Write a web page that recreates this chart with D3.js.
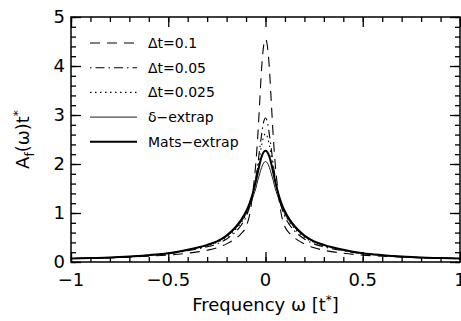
<!DOCTYPE html>
<html>
<head>
<meta charset="utf-8">
<script src="https://cdn.jsdelivr.net/npm/d3@7"></script>
<style>
  body { margin: 0; background: #fff; }
  svg text { font-family: "DejaVu Sans", Verdana, sans-serif; fill: #000; }
</style>
</head>
<body>
<svg id="chart" width="461" height="321"></svg>
<script>
// frequency grid (omega, in units of t*)
const omega = [-1, -0.9, -0.8, -0.7, -0.6, -0.5, -0.4, -0.3, -0.25, -0.2, -0.15, -0.125, -0.1, -0.08, -0.06, -0.05, -0.04, -0.03, -0.02, -0.01,
  0, 0.01, 0.02, 0.03, 0.04, 0.05, 0.06, 0.08, 0.1, 0.125, 0.15, 0.2, 0.25, 0.3, 0.4, 0.5, 0.6, 0.7, 0.8, 0.9, 1];

// A_f(omega) t* for each series
const dt01 = [0.07, 0.075, 0.085, 0.1, 0.12, 0.14, 0.18, 0.24, 0.29, 0.37, 0.49, 0.58, 0.72, 1.0, 1.6, 2.0, 2.55, 3.25, 3.95, 4.4,
  4.55, 4.4, 3.95, 3.25, 2.55, 2.0, 1.6, 1.0, 0.72, 0.58, 0.49, 0.37, 0.29, 0.24, 0.18, 0.14, 0.12, 0.1, 0.085, 0.075, 0.07];
const dt005 = [0.07, 0.08, 0.09, 0.11, 0.14, 0.17, 0.23, 0.31, 0.37, 0.47, 0.63, 0.75, 0.92, 1.15, 1.5, 1.72, 1.98, 2.3, 2.6, 2.85,
  2.94, 2.85, 2.6, 2.3, 1.98, 1.72, 1.5, 1.15, 0.92, 0.75, 0.63, 0.47, 0.37, 0.31, 0.23, 0.17, 0.14, 0.11, 0.09, 0.08, 0.07];
const dt0025 = [0.07, 0.08, 0.09, 0.11, 0.14, 0.18, 0.24, 0.33, 0.4, 0.5, 0.68, 0.8, 0.98, 1.2, 1.5, 1.7, 1.92, 2.15, 2.38, 2.55,
  2.62, 2.55, 2.38, 2.15, 1.92, 1.7, 1.5, 1.2, 0.98, 0.8, 0.68, 0.5, 0.4, 0.33, 0.24, 0.18, 0.14, 0.11, 0.09, 0.08, 0.07];
const deltaExtrap = [0.07, 0.08, 0.09, 0.11, 0.14, 0.18, 0.24, 0.34, 0.41, 0.52, 0.7, 0.82, 0.98, 1.15, 1.38, 1.5, 1.66, 1.8, 1.93, 2.02,
  2.05, 2.02, 1.93, 1.8, 1.66, 1.5, 1.38, 1.15, 0.98, 0.82, 0.7, 0.52, 0.41, 0.34, 0.24, 0.18, 0.14, 0.11, 0.09, 0.08, 0.07];
const matsExtrap = [0.07, 0.08, 0.09, 0.11, 0.14, 0.18, 0.25, 0.35, 0.42, 0.54, 0.73, 0.86, 1.03, 1.22, 1.48, 1.64, 1.82, 2.0, 2.15, 2.24,
  2.27, 2.24, 2.15, 2.0, 1.82, 1.64, 1.48, 1.22, 1.03, 0.86, 0.73, 0.54, 0.42, 0.35, 0.25, 0.18, 0.14, 0.11, 0.09, 0.08, 0.07];

const seriesNames = ["\u0394t=0.1", "\u0394t=0.05", "\u0394t=0.025", "\u03b4\u2212extrap", "Mats\u2212extrap"];
const xTicks = [-1, -0.5, 0, 0.5, 1];
const yTicks = [0, 1, 2, 3, 4, 5];

const series = [
  { name: seriesNames[0], values: dt01, dash: "10,7", width: 1.1 },
  { name: seriesNames[1], values: dt005, dash: "1.5,4,9,4", width: 1.1 },
  { name: seriesNames[2], values: dt0025, dash: "1.5,3.5", width: 1.1 },
  { name: seriesNames[3], values: deltaExtrap, dash: null, width: 0.9 },
  { name: seriesNames[4], values: matsExtrap, dash: null, width: 2 }
];

const svg = d3.select("#chart");
const margin = { top: 17, right: 1, bottom: 59, left: 71 };
const width = +svg.attr("width") - margin.left - margin.right;
const height = +svg.attr("height") - margin.top - margin.bottom;
const chartArea = svg.append("g").attr("transform", `translate(${margin.left},${margin.top})`);

const xScale = d3.scaleLinear().domain([-1, 1]).range([0, width]);
const yScale = d3.scaleLinear().domain([0, 5]).range([height, 0]);

chartArea.append("clipPath").attr("id", "clip")
  .append("rect").attr("width", width).attr("height", height);

// minor + major ticks, all pointing inwards, on all four sides
const fmt = d => d === 0 ? "0" : String(d).replace("-", "\u2212");
const xMinor = d3.range(-10, 11).map(i => i / 10);
const yMinor = d3.range(0, 26).map(i => i / 5);

function tickAxis(axis, g) {
  g.call(axis);
  g.select(".domain").remove();
  g.selectAll("line").attr("stroke", "#000").attr("stroke-width", 1.3);
}

chartArea.append("g").attr("transform", `translate(0,${height})`)
  .call(g => tickAxis(d3.axisTop(xScale).tickValues(xMinor).tickSize(5).tickFormat(""), g));
chartArea.append("g").attr("transform", `translate(0,${height})`)
  .call(g => tickAxis(d3.axisTop(xScale).tickValues(xTicks).tickSize(10).tickFormat(""), g));
chartArea.append("g")
  .call(g => tickAxis(d3.axisBottom(xScale).tickValues(xMinor).tickSize(5).tickFormat(""), g));
chartArea.append("g")
  .call(g => tickAxis(d3.axisBottom(xScale).tickValues(xTicks).tickSize(10).tickFormat(""), g));
chartArea.append("g")
  .call(g => tickAxis(d3.axisRight(yScale).tickValues(yMinor).tickSize(5).tickFormat(""), g));
chartArea.append("g")
  .call(g => tickAxis(d3.axisRight(yScale).tickValues(yTicks).tickSize(10).tickFormat(""), g));
chartArea.append("g").attr("transform", `translate(${width},0)`)
  .call(g => tickAxis(d3.axisLeft(yScale).tickValues(yMinor).tickSize(5).tickFormat(""), g));
chartArea.append("g").attr("transform", `translate(${width},0)`)
  .call(g => tickAxis(d3.axisLeft(yScale).tickValues(yTicks).tickSize(10).tickFormat(""), g));

// tick labels
chartArea.append("g").selectAll("text").data(xTicks).enter().append("text")
  .attr("x", d => xScale(d)).attr("y", height + 24)
  .attr("text-anchor", "middle").style("font-size", "18px")
  .text(fmt);
chartArea.append("g").selectAll("text").data(yTicks).enter().append("text")
  .attr("x", -6).attr("y", d => yScale(d) + 6)
  .attr("text-anchor", "end").style("font-size", "18px")
  .text(fmt);

// frame
chartArea.append("rect").attr("width", width).attr("height", height)
  .attr("fill", "none").attr("stroke", "#000").attr("stroke-width", 1.5);

// curves
const line = d3.line()
  .x((d, i) => xScale(omega[i]))
  .y(d => yScale(d))
  .curve(d3.curveMonotoneX);

series.forEach(s => {
  chartArea.append("path")
    .datum(s.values)
    .attr("clip-path", "url(#clip)")
    .attr("d", line)
    .attr("fill", "none")
    .attr("stroke", "#000")
    .attr("stroke-width", s.width)
    .attr("stroke-dasharray", s.dash);
});

// legend
const legend = svg.append("g").attr("transform", "translate(90,43)");
series.forEach((s, i) => {
  const row = legend.append("g").attr("transform", `translate(0,${i * 24.7})`);
  row.append("line").attr("x1", 0).attr("x2", 47).attr("y1", 0).attr("y2", 0)
    .attr("stroke", "#000").attr("stroke-width", s.width)
    .attr("stroke-dasharray", s.dash);
  row.append("text").attr("x", 58).attr("y", 5).style("font-size", "14px").text(s.name);
});

// axis titles
const xt = svg.append("text")
  .attr("x", margin.left + width / 2).attr("y", 311)
  .attr("text-anchor", "middle").style("font-size", "18px");
xt.append("tspan").text("Frequency \u03c9 [t");
xt.append("tspan").attr("dy", -7).style("font-size", "12px").text("*");
xt.append("tspan").attr("dy", 7).text("]");

const yt = svg.append("text")
  .attr("transform", `translate(29,${margin.top + height / 2}) rotate(-90)`)
  .attr("text-anchor", "middle").style("font-size", "18px");
yt.append("tspan").text("A");
yt.append("tspan").attr("dy", 5).style("font-size", "12px").text("f");
yt.append("tspan").attr("dy", -5).text("(\u03c9)t");
yt.append("tspan").attr("dy", -7).style("font-size", "12px").text("*");
</script>
</body>
</html>
